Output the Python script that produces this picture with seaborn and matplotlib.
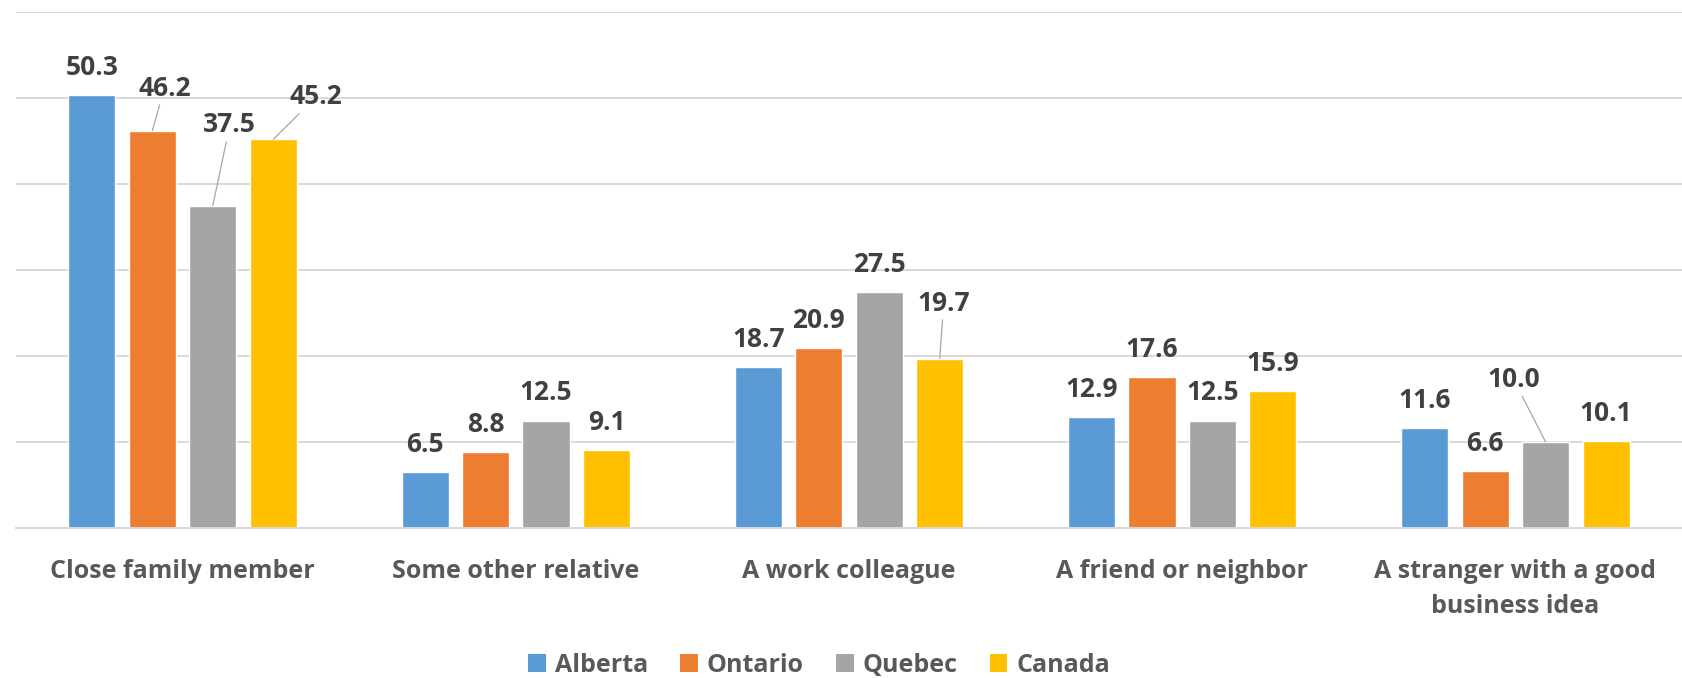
import matplotlib
matplotlib.use("Agg")
import matplotlib.pyplot as plt
import seaborn as sns
import pandas as pd
from matplotlib.patches import Patch

categories = ["Close family member", "Some other relative", "A work colleague",
              "A friend or neighbor", "A stranger with a good\nbusiness idea"]
regions = ["Alberta", "Ontario", "Quebec", "Canada"]
alberta = [50.3, 6.5, 18.7, 12.9, 11.6]
ontario = [46.2, 8.8, 20.9, 17.6, 6.6]
quebec = [37.5, 12.5, 27.5, 12.5, 10.0]
canada = [45.2, 9.1, 19.7, 15.9, 10.1]
colors = ["#5B9BD5", "#ED7D31", "#A5A5A5", "#FFC000"]

series = [alberta, ontario, quebec, canada]
df = pd.DataFrame({
    "category": [c for s in series for c in categories],
    "region": [r for r, s in zip(regions, series) for _ in s],
    "value": [v for s in series for v in s],
})

sns.set_theme(style="white")
plt.rcParams['font.family'] = ['Open Sans', 'DejaVu Sans']

W, H = 1682, 678
fig = plt.figure(figsize=(W / 100, H / 100), dpi=100)
ax = fig.add_axes([16 / W, 150 / H, 1 - 16 / W, (666 - 150) / H])

sns.barplot(data=df, x="category", y="value", hue="region", order=categories,
            hue_order=regions, palette=colors, width=0.726, gap=0.22,
            saturation=1, legend=False, ax=ax)

ax.set_ylim(0, 60)
ax.set_xlim(-0.5, 4.5)
ax.set_yticks(range(10, 61, 10))
ax.yaxis.grid(True, color="#D9D9D9", lw=1.4)
ax.set_axisbelow(True)
ax.tick_params(axis="y", left=False, labelleft=False)
ax.tick_params(axis="x", bottom=False, pad=16, labelsize=18, labelcolor="#595959")
for lab in ax.get_xticklabels():
    lab.set_fontweight("bold")
    lab.set_linespacing(1.55)
for s in ["top", "left", "right"]:
    ax.spines[s].set_visible(False)
ax.spines["bottom"].set_color("#D9D9D9")
ax.spines["bottom"].set_linewidth(1.4)
ax.set_xlabel("")
ax.set_ylabel("")

# label offsets in pixels (dx, dy of visual label centre above bar top)
special = {
    (0, 1): (12, 44),
    (0, 2): (17, 82),
    (0, 3): (43, 44),
    (2, 3): (4, 57),
    (4, 2): (-32, 64),
}
px = 0.72
for ri, cont in enumerate(ax.containers):
    for ci, bar in enumerate(cont):
        val = series[ri][ci]
        x = bar.get_x() + bar.get_width() / 2
        top = bar.get_height()
        dx, dy = special.get((ci, ri), (0, 29))
        kw = dict(xy=(x, top), xytext=(dx * px, (dy - 9) * px), textcoords="offset points",
                  ha="center", va="baseline", fontsize=19, fontweight="bold", color="#404040")
        if (ci, ri) in special:
            kw["arrowprops"] = dict(arrowstyle="-", color="#A6A6A6", lw=0.9,
                                    shrinkA=0, shrinkB=0)
        ax.annotate(f"{val:.1f}", **kw)

handles = [Patch(facecolor=c, edgecolor="none") for c in colors]
fig.legend(handles, regions, loc="center", bbox_to_anchor=(0.487, 1 - 665 / H),
           ncol=4, frameon=False, handlelength=0.7, handleheight=0.7,
           handletextpad=0.35, columnspacing=1.3,
           prop=dict(size=18, weight="bold"), labelcolor="#595959")

fig.savefig("out.png", dpi=100)
